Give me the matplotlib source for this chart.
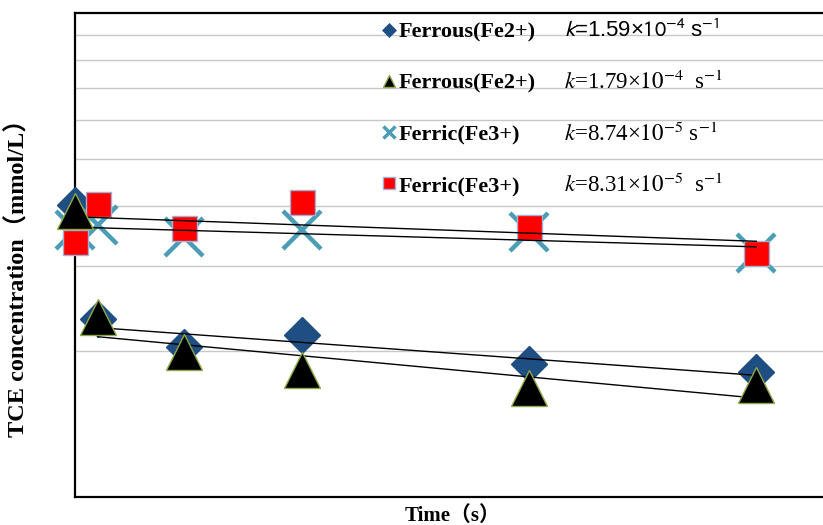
import numpy as np
import matplotlib
matplotlib.use("Agg")
import matplotlib.pyplot as plt

# sampling times (s) and TCE concentrations (mmol/L)
time = np.array([0, 100, 480, 1000, 2000, 3000])
fe2_a = np.array([0.402, 0.233, 0.204, 0.216, 0.188, 0.181])
fe2_b = np.array([0.389, 0.236, 0.199, 0.183, 0.168, 0.170])
fe3_a = np.array([0.357, 0.364, 0.345, 0.357, 0.352, 0.320])
fe3_b = np.array([0.337, 0.404, 0.360, 0.406, 0.362, 0.320])

labels = ["Ferrous(Fe2+)", "Ferrous(Fe2+)", "Ferric(Fe3+)", "Ferric(Fe3+)"]
k_texts = [r"$k$=1.59×$10^{-4}$ s$^{-1}$",
           r"$k$=1.79×$10^{-4}$  s$^{-1}$",
           r"$k$=8.74×$10^{-5}$ s$^{-1}$",
           r"$k$=8.31×$10^{-5}$  s$^{-1}$"]

serif = ["Liberation Serif", "Noto Sans CJK SC"]

fig = plt.figure(figsize=(8.23, 5.25), dpi=100)
ax = fig.add_axes([75 / 823, 28 / 525, 1 - 75 / 823 + 0.01, 484 / 525])

ax.set_yscale("log")
ax.set_ylim(0.1, 1.0)
ax.set_xlim(0, 3330)
ax.grid(True, which="minor", axis="y", color="#c8c8c8", lw=1)
ax.set_axisbelow(True)
ax.tick_params(which="both", length=0, labelleft=False, labelbottom=False)
ax.yaxis.set_minor_formatter(plt.NullFormatter())
ax.set_xticks([])
for s in ["left", "bottom", "top"]:
    ax.spines[s].set_linewidth(1.6)
ax.spines["right"].set_visible(False)

# exponential trend lines (ferrous fitted without the t=0 point)
def trend(t, c):
    p = np.polyfit(t, np.log(c), 1)
    tt = np.array([t[0], t[-1]])
    return tt, np.exp(np.polyval(p, tt))

for c, start in [(fe2_a, 1), (fe2_b, 1), (fe3_a, 0), (fe3_b, 0)]:
    tt, cc = trend(time[start:], c[start:])
    ax.plot(tt, cc, color="black", lw=1, zorder=4)

h1, = ax.plot(time, fe2_a, ls="none", marker="D", ms=18, color="#1f4e83",
              mec="#1f4e83", zorder=3, clip_on=False)
h3, = ax.plot(time, fe3_a, ls="none", marker="x", ms=27, mew=3.2,
              color="#4a9db5", zorder=3, clip_on=False)
h4, = ax.plot(time, fe3_b, ls="none", marker="s", ms=18, color="#ff0000",
              mec="#9fb3d6", mew=1, zorder=3, clip_on=False)
h2, = ax.plot(time, fe2_b, ls="none", marker="^", ms=26, color="black",
              mec="#8fa84a", mew=1, zorder=5, clip_on=False)

leg = ax.legend([h1, h2, h3, h4], labels, loc="upper left",
                bbox_to_anchor=(0.394, 1.0), frameon=False,
                prop={"family": serif, "weight": "bold", "size": 16},
                labelspacing=1.38, handlelength=0.6, handletextpad=0.15,
                borderaxespad=0)
for h, ms, mew in zip(leg.legend_handles, [7, 9, 8, 9], [0.5, 1, 2.5, 1]):
    h.set_markersize(ms)
    h.set_markeredgewidth(mew)

ky = [0.963, 0.857, 0.749, 0.645]
for i, (txt, y) in enumerate(zip(k_texts, ky)):
    if i == 0:
        ax.text(0.646, y, txt, transform=ax.transAxes, va="center", ha="left",
                fontsize=16, family="Liberation Sans", math_fontfamily="stixsans")
    else:
        ax.text(0.646, y, txt, transform=ax.transAxes, va="center", ha="left",
                fontsize=16.5, family="Liberation Serif", math_fontfamily="stix")

fig.text(18 / 823, 1 - 272 / 525, "TCE concentration（mmol/L）", rotation=90,
         ha="center", va="center", family=serif, weight="bold", fontsize=17.5)
fig.text(453 / 823, 1 - 516 / 525, "Time（s）", ha="center", va="center",
         family=serif, weight="bold", fontsize=15)

fig.savefig("out.png", dpi=100)
